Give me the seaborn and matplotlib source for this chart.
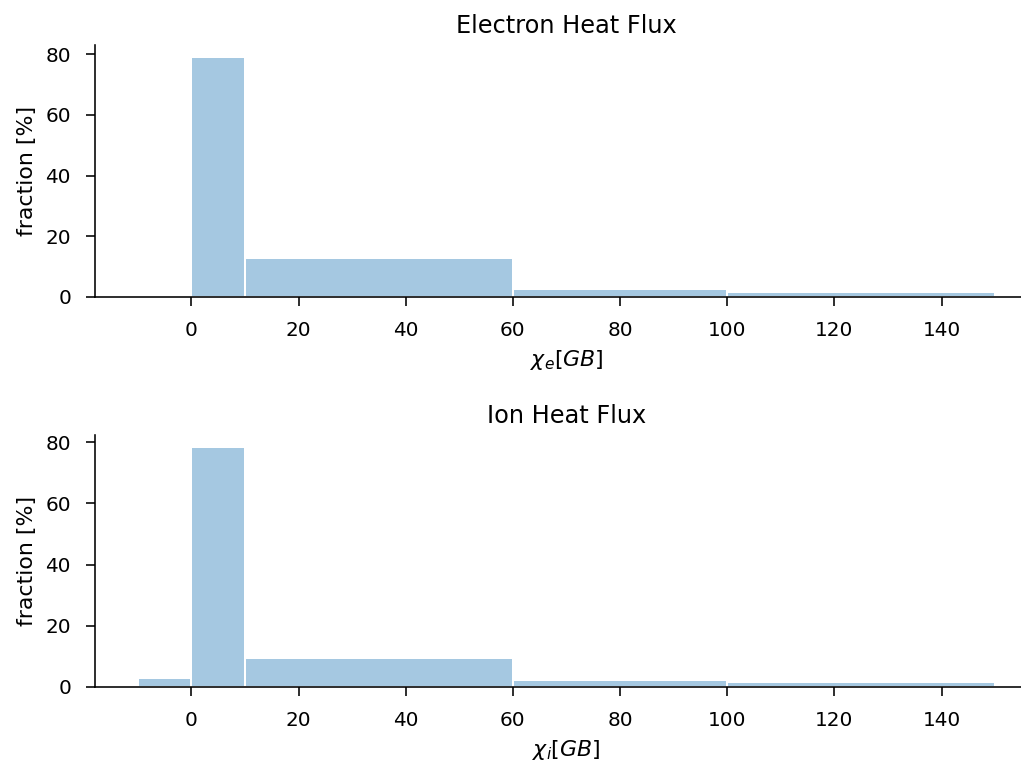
import numpy as np
import pandas as pd
import matplotlib
matplotlib.use("Agg")
import matplotlib.pyplot as plt
import seaborn as sns

# bin edges shared by both histograms
bin_edges = [-10, 0, 10, 60, 100, 150]
bin_left = [-10, 0, 10, 60, 100]

# fraction [%] per bin
electron_frac = [0.2, 79.1, 13.0, 2.7, 1.6]
ion_frac = [2.9, 78.4, 9.6, 2.4, 1.6]

titles = ["Electron Heat Flux", "Ion Heat Flux"]
xlabels = [r"$\chi_e[GB]$", r"$\chi_i[GB]$"]

sns.set_style("ticks")
plt.rcParams["font.family"] = ["DejaVu Sans"]
for key in ["text.color", "axes.labelcolor", "xtick.color", "ytick.color", "axes.edgecolor"]:
    plt.rcParams[key] = "black"
plt.rcParams["axes.linewidth"] = 0.8
plt.rcParams["xtick.major.width"] = 0.8
plt.rcParams["ytick.major.width"] = 0.8
plt.rcParams["xtick.major.size"] = 4.5
plt.rcParams["ytick.major.size"] = 4.5
plt.rcParams["xtick.major.pad"] = 7.5
plt.rcParams["ytick.major.pad"] = 7.5

dpi = 144
fig = plt.figure(figsize=(1021 / dpi, 764 / dpi), dpi=dpi)
ax_top = fig.add_axes([95 / 1021, 1 - 297 / 764, 943 / 1021, 252 / 764])
ax_bot = fig.add_axes([95 / 1021, 1 - 687 / 764, 943 / 1021, 252 / 764])

for ax, frac, title, xlab in zip([ax_top, ax_bot], [electron_frac, ion_frac], titles, xlabels):
    df = pd.DataFrame({"x": bin_left, "frac": frac})
    sns.histplot(data=df, x="x", weights="frac", bins=bin_edges, ax=ax,
                 color="C0", alpha=0.4, edgecolor="white", linewidth=1)
    ax.set_title(title, fontsize=12)
    ax.set_xlabel(xlab, fontsize=11)
    ax.set_ylabel("fraction [%]", fontsize=11)
    ax.set_xticks([0, 20, 40, 60, 80, 100, 120, 140])
    ax.set_yticks([0, 20, 40, 60, 80])
    ax.tick_params(labelsize=10)
    sns.despine(ax=ax)

fig.savefig("out.png", dpi=dpi)
